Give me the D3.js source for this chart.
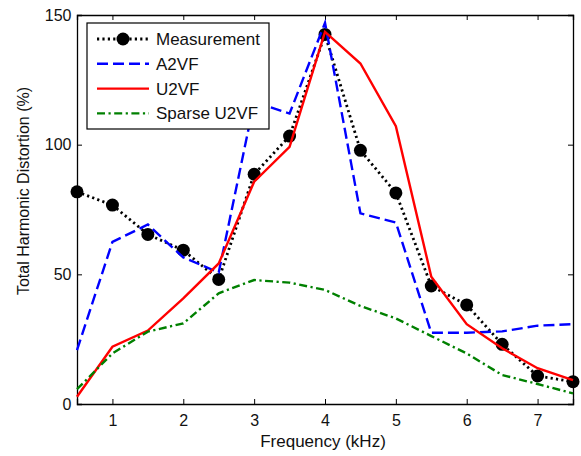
<!DOCTYPE html>
<html>
<head>
<meta charset="utf-8">
<script src="https://cdn.jsdelivr.net/npm/d3@7"></script>
<style>
  body { margin: 0; background: #fff; }
  text { font-family: "Liberation Sans", Arial, sans-serif; fill: #111; }
</style>
</head>
<body>
<div id="chart"></div>
<script>
const width = 581, height = 456;
const margin = {top: 15, right: 8, bottom: 52, left: 77};

// frequency in kHz
const freq = [0.5, 1, 1.5, 2, 2.5, 3, 3.5, 4, 4.5, 5, 5.5, 6, 6.5, 7, 7.5];
const measurement = [81.8, 76.7, 65.4, 59.3, 48.0, 88.6, 103.3, 142.5, 97.8, 81.4, 45.5, 38.2, 23.0, 10.8, 8.6];
const a2vf = [20.8, 62.5, 69.2, 56.5, 50.7, 116.5, 112, 147, 73.5, 70.0, 27.5, 27.5, 28, 30.2, 30.8];
const u2vf = [2.8, 22.1, 28.3, 40.7, 54.2, 85.7, 99.2, 143.5, 131.3, 107.1, 49.1, 30.8, 21.5, 13.8, 9.2];
const sparseU2vf = [5.7, 19.5, 27.9, 31.1, 42.7, 47.8, 46.8, 44, 37.8, 33.0, 26.2, 19.5, 11.2, 7.7, 4.1];

const xTicks = [1, 2, 3, 4, 5, 6, 7];
const yTicks = [0, 50, 100, 150];

const series = [
  {name: "Measurement", values: measurement, color: "#000", dash: "2.2,3.2", w: 2.8, marker: true},
  {name: "A2VF", values: a2vf, color: "#0000ff", dash: "11,5", w: 2.4},
  {name: "U2VF", values: u2vf, color: "#ff0000", dash: null, w: 2.4},
  {name: "Sparse U2VF", values: sparseU2vf, color: "#008000", dash: "8,3.5,2.2,3.5", w: 2.4}
];

const innerW = width - margin.left - margin.right;
const innerH = height - margin.top - margin.bottom;

const svg = d3.select("#chart").append("svg")
  .attr("width", width).attr("height", height);
const g = svg.append("g").attr("transform", `translate(${margin.left},${margin.top})`);

let x = d3.scaleLinear().domain([0.5, 7.5]).range([0, innerW]);
let y = d3.scaleLinear().domain([0, 150]).range([innerH, 0]);

// axes, ticks inward on all four sides (matlab box)
g.append("g").attr("transform", `translate(0,${innerH})`)
  .call(d3.axisBottom(x).tickValues(xTicks).tickSize(-5).tickPadding(10.5).tickFormat(d3.format("d")));
g.append("g")
  .call(d3.axisTop(x).tickValues(xTicks).tickSize(-5).tickFormat(""));
g.append("g")
  .call(d3.axisLeft(y).tickValues(yTicks).tickSize(-5).tickPadding(5.5));
g.append("g").attr("transform", `translate(${innerW},0)`)
  .call(d3.axisRight(y).tickValues(yTicks).tickSize(-5).tickFormat(""));
g.selectAll(".domain").attr("stroke", "#000").attr("stroke-width", 1.3);
g.selectAll(".tick line").attr("stroke", "#000");
g.selectAll(".tick text").style("font-size", "16px").style("font-family", "Liberation Sans, Arial, sans-serif").attr("fill", "#111");

const line = d3.line().x((d, i) => x(freq[i])).y(d => y(d));

series.forEach(s => {
  g.append("path")
    .datum(s.values)
    .attr("fill", "none")
    .attr("stroke", s.color)
    .attr("stroke-width", s.w)
    .attr("stroke-dasharray", s.dash)
    .attr("d", line);
  if (s.marker) {
    g.selectAll(".dot").data(s.values).enter().append("circle")
      .attr("cx", (d, i) => x(freq[i])).attr("cy", d => y(d))
      .attr("r", 6.5).attr("fill", "#000");
  }
});

// axis labels
svg.append("text")
  .attr("x", margin.left + innerW / 2 - 2).attr("y", 447)
  .attr("text-anchor", "middle").style("font-size", "17px")
  .text("Frequency (kHz)");
svg.append("text")
  .attr("transform", `translate(29,191) rotate(-90)`)
  .attr("text-anchor", "middle").style("font-size", "16px")
  .text("Total Harmonic Distortion (%)");

// legend
const leg = svg.append("g").attr("transform", "translate(87,23)");
leg.append("rect").attr("width", 182).attr("height", 106)
  .attr("fill", "#fff").attr("stroke", "#000").attr("stroke-width", 1.2);
series.forEach((s, i) => {
  let ly = 16 + i * 24.8;
  leg.append("line").attr("x1", 10).attr("x2", 62).attr("y1", ly).attr("y2", ly)
    .attr("stroke", s.color).attr("stroke-width", s.w).attr("stroke-dasharray", s.dash);
  if (s.marker) leg.append("circle").attr("cx", 36).attr("cy", ly).attr("r", 6.5).attr("fill", "#000");
  leg.append("text").attr("x", 69).attr("y", ly + 6).style("font-size", "17px").text(s.name);
});
</script>
</body>
</html>
